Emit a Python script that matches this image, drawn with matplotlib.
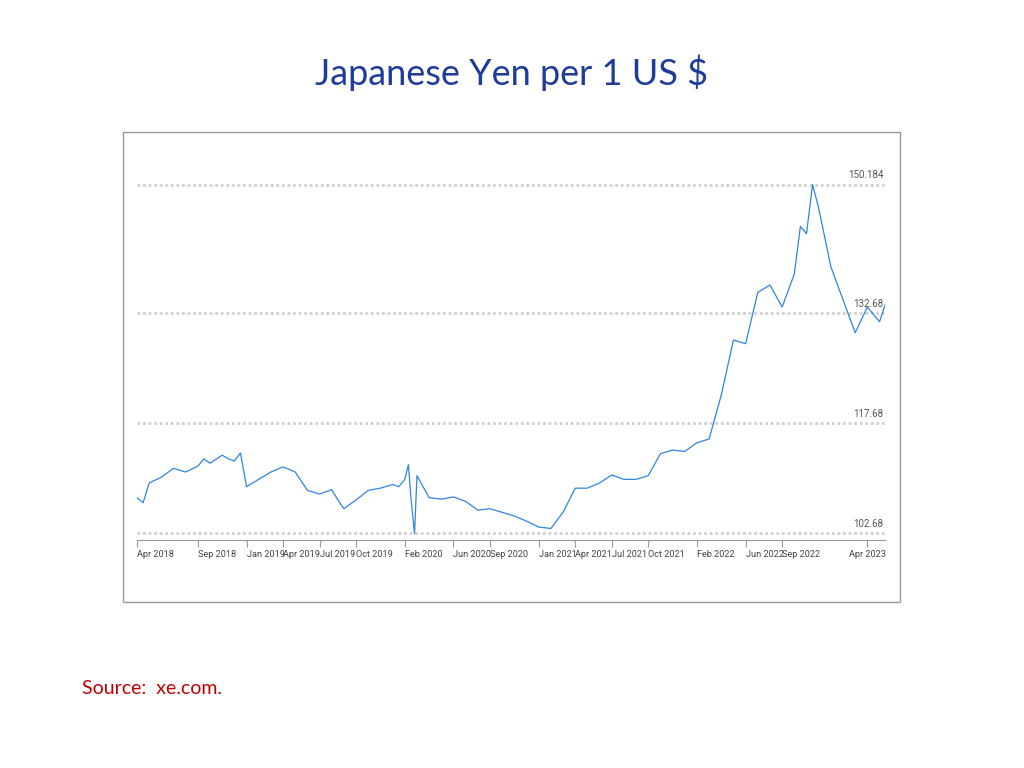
import matplotlib.pyplot as plt
import matplotlib.patches as mpatches
import numpy as np

# months since Apr 2018 (0 = Apr 2018)
months = [0, 0.5, 1, 2, 3, 4, 5, 5.5, 6, 7, 7.5, 8, 8.5, 9, 10, 11, 12, 13, 14, 15, 16, 16.5, 17, 18, 19,
          20, 21, 21.5, 22, 22.3, 22.5, 22.8, 23, 24, 25, 26, 27, 28, 29, 30, 31, 32, 33,
          34, 35, 36, 37, 38, 39, 40, 41, 42, 43, 44, 45, 46, 47, 48, 49, 50, 51,
          52, 53, 54, 54.5, 55, 55.5, 56, 57, 58, 59, 60, 61, 61.5]
rates = [107.5, 106.8, 109.5, 110.3, 111.5, 111.0, 111.8, 112.8, 112.2, 113.3, 112.8, 112.5, 113.6, 109.0, 110.0, 111.0, 111.7, 111.0, 108.5, 108.0, 108.6, 107.2,
         106.0, 107.2, 108.5, 108.8, 109.3, 109.0, 110.0, 112.0, 107.5, 102.6, 110.5, 107.5, 107.3, 107.6, 107.0, 105.8, 106.0, 105.5, 105.0, 104.3, 103.5,
         103.3, 105.5, 108.8, 108.8, 109.5, 110.6, 110.0, 110.0, 110.5, 113.5, 114.0, 113.8, 115.0, 115.5, 121.5, 129.0, 128.5, 135.5,
         136.5, 133.5, 138.0, 144.5, 143.5, 150.2, 147.0, 139.0, 134.5, 130.0, 133.5, 131.5, 134.0]

tick_pos = [0, 5, 9, 12, 15, 18, 22, 26, 29, 33, 36, 39, 42, 46, 50, 53, 60]
tick_labels = ['Apr 2018', 'Sep 2018', 'Jan 2019', 'Apr 2019', 'Jul 2019', 'Oct 2019', 'Feb 2020',
               'Jun 2020', 'Sep 2020', 'Jan 2021', 'Apr 2021', 'Jul 2021', 'Oct 2021', 'Feb 2022',
               'Jun 2022', 'Sep 2022', 'Apr 2023']
grid_levels = [102.68, 117.68, 132.68, 150.184]
grid_labels = ['102.68', '117.68', '132.68', '150.184']

fig = plt.figure(figsize=(10.24, 7.68), dpi=100)
fig.text(0.5, 0.905, 'Japanese Yen per 1 US $', ha='center', va='center',
         fontsize=26, color='#1F3C99', family='Lato')
fig.text(0.08, 0.104, 'Source:  xe.com.', ha='left', va='center',
         fontsize=14, color='#C00000', family='Lato')

# frame of the embedded chart
fig.patches.append(mpatches.Rectangle((123/1024, 1-602/768), 777/1024, 470/768,
                                      transform=fig.transFigure, fill=False,
                                      edgecolor='#999999', lw=1))

ax = fig.add_axes([137/1024, 1-540/768, 748/1024, 380/768])
ax.plot(months, rates, color='#2E86DE', lw=0.9)
for lv, lb in zip(grid_levels, grid_labels):
    ax.axhline(lv, color='#d0d0d0', lw=2, ls=(0, (1, 1)), zorder=0)
    ax.text(61.3, lv + 0.6, lb, ha='right', va='bottom', fontsize=7,
            color='#555555', family='Roboto')
ax.set_xlim(0, 61.45)
ax.set_ylim(101.73, 153.55)
ax.set_yticks([])
ax.set_xticks(tick_pos)
ax.set_xticklabels(tick_labels, fontsize=6.6, color='#444444', family='Roboto')
ax.tick_params(axis='x', length=5, color='#999999', pad=2)
for lbl in ax.get_xticklabels():
    lbl.set_horizontalalignment('left')
ax.get_xticklabels()[-1].set_horizontalalignment('center')
for s in ['top', 'right', 'left']:
    ax.spines[s].set_visible(False)
ax.spines['bottom'].set_color('#999999')

fig.savefig('out.png', dpi=100)
